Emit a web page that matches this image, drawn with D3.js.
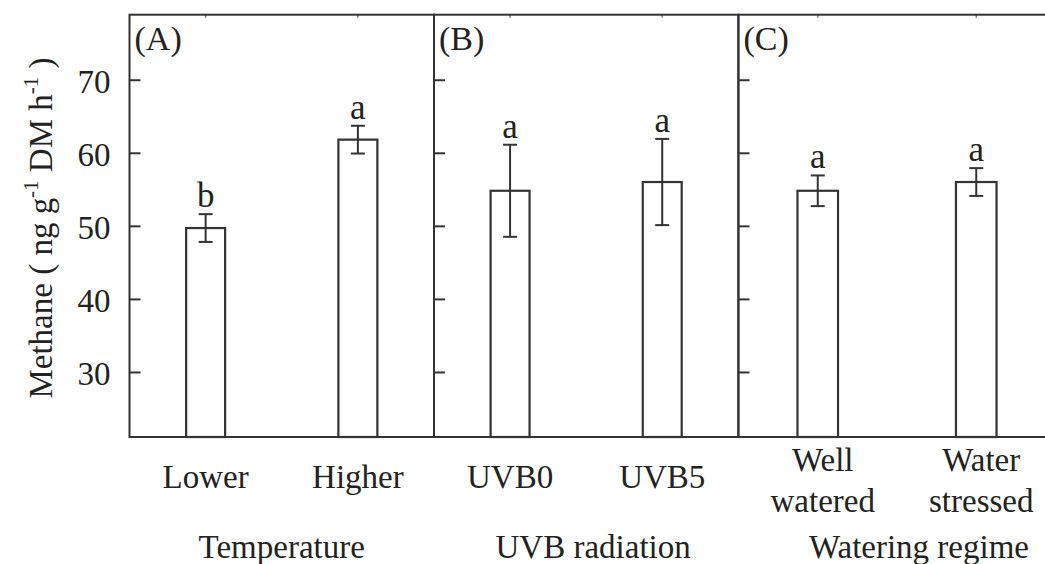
<!DOCTYPE html>
<html>
<head>
<meta charset="utf-8">
<script src="https://cdn.jsdelivr.net/npm/d3@7"></script>
<style>
  html, body { margin: 0; padding: 0; background: #fff; }
  svg { display: block; }
</style>
</head>
<body>
<svg id="chart" width="1045" height="564" font-family="Liberation Serif"></svg>
<script>
// ---- data ----
const panelLabels = ["(A)", "(B)", "(C)"];
const groupTitles = ["Temperature", "UVB radiation", "Watering regime"];
const categoriesA = ["Lower", "Higher"];
const categoriesB = ["UVB0", "UVB5"];
const categoriesC = ["Well watered", "Water stressed"];
const meansA = [49.7, 61.8];
const meansB = [54.8, 56.0];
const meansC = [54.8, 56.0];
const errorsA = [1.9, 1.9];
const errorsB = [6.3, 5.9];
const errorsC = [2.1, 1.9];
const lettersA = ["b", "a"];
const lettersB = ["a", "a"];
const lettersC = ["a", "a"];
const yTicks = [30, 40, 50, 60, 70];
const yDomain = [21.1, 78.9];

const panels = [
  { label: panelLabels[0], title: groupTitles[0], cats: categoriesA, means: meansA, errs: errorsA, letters: lettersA },
  { label: panelLabels[1], title: groupTitles[1], cats: categoriesB, means: meansB, errs: errorsB, letters: lettersB },
  { label: panelLabels[2], title: groupTitles[2], cats: categoriesC, means: meansC, errs: errorsC, letters: lettersC }
];

// ---- layout ----
const FONT = "Liberation Serif";
const TXT = "#222";
const panelX = [129.5, 434, 738.5];
const panelW = [304.5, 304.3, 317];
const titleDx = [0, 7, 22];
const plotTop = 14.7, plotBottom = 437;
const stroke = "#333";

const svg = d3.select("#chart");
function addText(sel, size) {
  return sel.append("text").attr("font-family", FONT).attr("font-size", size).attr("fill", TXT);
}
const y = d3.scaleLinear().domain(yDomain).range([plotBottom, plotTop]);

// y-axis labels (panel A only)
const yAxis = d3.axisLeft(y).tickValues(yTicks).tickSize(0).tickPadding(19);
const yg = svg.append("g").attr("transform", `translate(${panelX[0]},0)`).call(yAxis);
yg.attr("font-family", FONT).attr("font-size", 33);
yg.select(".domain").remove();
yg.selectAll("text").attr("font-family", FONT).attr("font-size", 33).attr("fill", TXT)
  .attr("dy", "0.38em");

// y-axis title
const yt = addText(svg, 33)
  .attr("transform", `translate(52,228) rotate(-90)`)
  .attr("text-anchor", "middle");
yt.append("tspan").text("Methane ( ng g");
yt.append("tspan").attr("font-size", 21).attr("dy", -14).text("-1");
yt.append("tspan").attr("dy", 14).text(" DM h");
yt.append("tspan").attr("font-size", 21).attr("dy", -14).text("-1");
yt.append("tspan").attr("dy", 14).text(" )");

panels.forEach((p, i) => {
  const x0 = panelX[i], w = panelW[i];
  const g = svg.append("g").attr("transform", `translate(${x0},0)`);
  const x = d3.scaleBand().domain(p.cats).range([0, w]).paddingInner(0.744).paddingOuter(0.372);
  const bw = x.bandwidth();

  // inward y ticks
  const ticks = d3.axisRight(y).tickValues(yTicks).tickSize(11).tickFormat("");
  const tg = g.append("g").call(ticks);
  tg.select(".domain").remove();
  tg.selectAll("line").attr("stroke", stroke).attr("stroke-width", 2);

  // top small ticks at categories
  const topAxis = d3.axisBottom(x).tickSize(3).tickFormat("");
  const ta = g.append("g").attr("transform", `translate(0,${plotTop})`).call(topAxis);
  ta.select(".domain").remove();
  ta.selectAll("line").attr("stroke", "#777").attr("stroke-width", 1.5);

  // bars
  g.selectAll("rect.bar").data(p.cats).join("rect")
    .attr("class", "bar")
    .attr("x", d => x(d))
    .attr("width", bw)
    .attr("y", (d, j) => y(p.means[j]))
    .attr("height", (d, j) => plotBottom - y(p.means[j]))
    .attr("fill", "#fff").attr("stroke", stroke).attr("stroke-width", 2.2);

  // error bars
  const cap = 14;
  p.cats.forEach((c, j) => {
    const cx = x(c) + bw / 2;
    const hi = y(p.means[j] + p.errs[j]), lo = y(p.means[j] - p.errs[j]);
    g.append("line").attr("x1", cx).attr("x2", cx).attr("y1", hi).attr("y2", lo)
      .attr("stroke", stroke).attr("stroke-width", 2);
    [hi, lo].forEach(v => g.append("line").attr("x1", cx - cap / 2).attr("x2", cx + cap / 2)
      .attr("y1", v).attr("y2", v).attr("stroke", stroke).attr("stroke-width", 2));
    // significance letter
    addText(g, 35).attr("x", cx).attr("y", hi - 7).attr("text-anchor", "middle").text(p.letters[j]);
    // category label
    const words = c.split(" ");
    if (words.length === 1) {
      addText(g, 33).attr("x", cx).attr("y", 488).attr("text-anchor", "middle").text(c);
    } else {
      words.forEach((wd, k) => addText(g, 33).attr("x", cx + 5).attr("y", 471 + k * 41)
        .attr("text-anchor", "middle").text(wd));
    }
  });

  // frame
  g.append("rect").attr("x", 0).attr("y", plotTop).attr("width", w).attr("height", plotBottom - plotTop)
    .attr("fill", "none").attr("stroke", stroke).attr("stroke-width", 2);

  // panel label
  addText(g, 34).attr("x", 5).attr("y", 50).text(p.label);

  // group title
  addText(g, 33).attr("x", w / 2 + titleDx[i]).attr("y", 558).attr("text-anchor", "middle").text(p.title);
});
</script>
</body>
</html>
